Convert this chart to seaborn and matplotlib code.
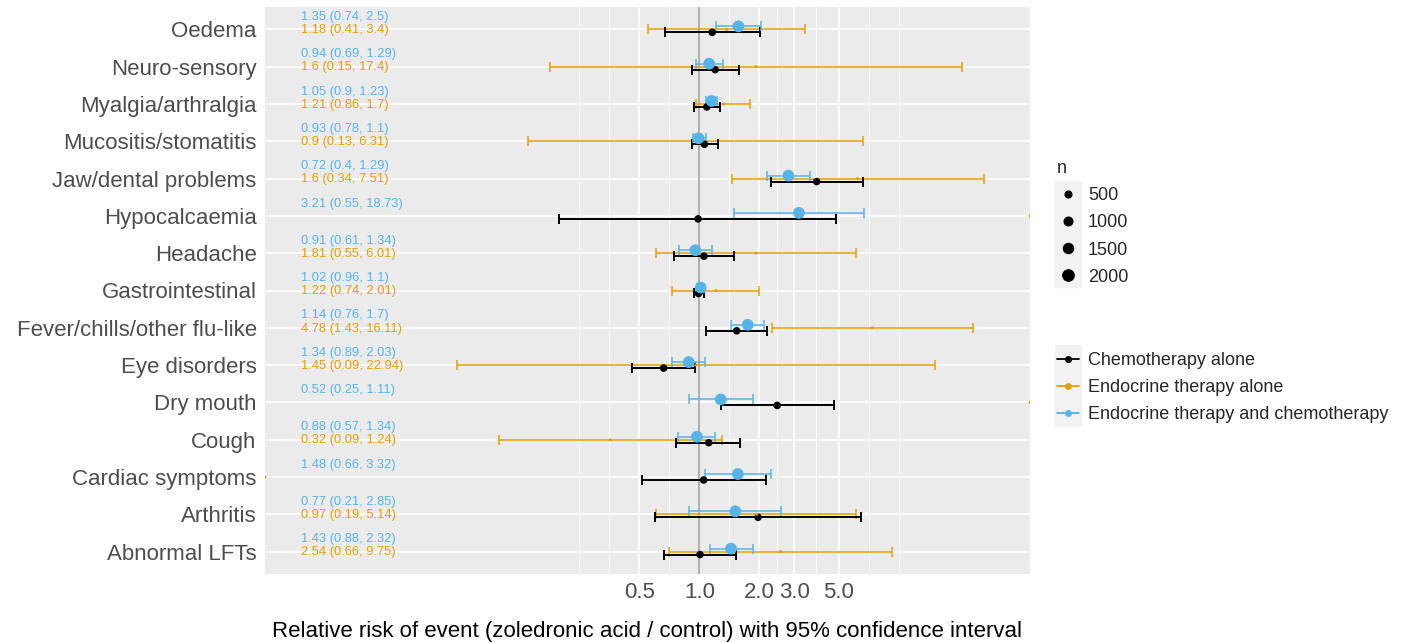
import numpy as np
import pandas as pd
import seaborn as sns
import matplotlib.pyplot as plt
from matplotlib.lines import Line2D
from matplotlib.patches import Rectangle
from matplotlib.ticker import NullFormatter

# ---- data ----
events = ["Oedema", "Neuro-sensory", "Myalgia/arthralgia", "Mucositis/stomatitis",
          "Jaw/dental problems", "Hypocalcaemia", "Headache", "Gastrointestinal",
          "Fever/chills/other flu-like", "Eye disorders", "Dry mouth", "Cough",
          "Cardiac symptoms", "Arthritis", "Abnormal LFTs"]

X_MIN, X_MAX = 0.0066, 45.7

chemo_est = [1.16, 1.20, 1.09, 1.06, 3.88, 0.985, 1.055, 0.99, 1.54, 0.662, 2.46, 1.114, 1.051, 1.97, 1.008]
chemo_lo = [0.673, 0.915, 0.944, 0.919, 2.28, 0.198, 0.749, 0.937, 1.076, 0.457, 1.284, 0.767, 0.516, 0.599, 0.667]
chemo_hi = [2.02, 1.58, 1.27, 1.24, 6.63, 4.85, 1.50, 1.055, 2.19, 0.955, 4.76, 1.607, 2.16, 6.50, 1.53]

# rows without a finite estimate sit on the panel edge
endo_est = [1.37, 1.92, 1.32, 0.954, 6.23, X_MAX, 1.92, 1.21, 7.38, 0.96, X_MAX, 0.356, X_MIN, 1.94, 2.56]
endo_lo = [0.551, 0.177, 0.962, 0.138, 1.46, np.nan, 0.606, 0.732, 2.31, 0.0608, np.nan, 0.0989, np.nan, 0.606, 0.704]
endo_hi = [3.40, 20.9, 1.80, 6.63, 26.8, np.nan, 6.09, 2.0, 23.6, 15.2, np.nan, 1.30, np.nan, 6.11, 9.30]

both_est = [1.57, 1.12, 1.153, 0.99, 2.80, 3.16, 0.955, 1.016, 1.75, 0.884, 1.28, 0.973, 1.56, 1.516, 1.442]
both_lo = [1.21, 0.958, 1.076, 0.926, 2.19, 1.50, 0.794, 0.97, 1.45, 0.732, 0.887, 0.785, 1.072, 0.887, 1.127]
both_hi = [2.05, 1.32, 1.22, 1.076, 3.61, 6.70, 1.157, 1.06, 2.12, 1.072, 1.85, 1.203, 2.29, 2.58, 1.85]

n_chemo, n_endo, n_both = 700, 20, 2200

both_text = ["1.35 (0.74, 2.5)", "0.94 (0.69, 1.29)", "1.05 (0.9, 1.23)", "0.93 (0.78, 1.1)",
             "0.72 (0.4, 1.29)", "3.21 (0.55, 18.73)", "0.91 (0.61, 1.34)", "1.02 (0.96, 1.1)",
             "1.14 (0.76, 1.7)", "1.34 (0.89, 2.03)", "0.52 (0.25, 1.11)", "0.88 (0.57, 1.34)",
             "1.48 (0.66, 3.32)", "0.77 (0.21, 2.85)", "1.43 (0.88, 2.32)"]
endo_text = ["1.18 (0.41, 3.4)", "1.6 (0.15, 17.4)", "1.21 (0.86, 1.7)", "0.9 (0.13, 6.31)",
             "1.6 (0.34, 7.51)", "", "1.81 (0.55, 6.01)", "1.22 (0.74, 2.01)",
             "4.78 (1.43, 16.11)", "1.45 (0.09, 22.94)", "", "0.32 (0.09, 1.24)",
             "", "0.97 (0.19, 5.14)", "2.54 (0.66, 9.75)"]

groups = ["Chemotherapy alone", "Endocrine therapy alone", "Endocrine therapy and chemotherapy"]
colors = {"Chemotherapy alone": "#000000",
          "Endocrine therapy alone": "#E69F00",
          "Endocrine therapy and chemotherapy": "#56B4E9"}
dodge = {"Chemotherapy alone": 0.08, "Endocrine therapy alone": 0.0,
         "Endocrine therapy and chemotherapy": -0.08}

size_breaks = [500, 1000, 1500, 2000]

# ---- long table ----
rows = []
for g, est, lo, hi, n in [(groups[0], chemo_est, chemo_lo, chemo_hi, n_chemo),
                          (groups[1], endo_est, endo_lo, endo_hi, n_endo),
                          (groups[2], both_est, both_lo, both_hi, n_both)]:
    for i, ev in enumerate(events):
        rows.append(dict(event=ev, group=g, est=est[i], lo=lo[i], hi=hi[i], n=n,
                         ypos=i + dodge[g]))
df = pd.DataFrame(rows)


def marker_area(n):
    d_px = 2.1 + 0.206 * np.sqrt(n)
    return (d_px * 0.72) ** 2


sns.set_theme(style="darkgrid", rc={"axes.facecolor": "#EBEBEB", "grid.color": "white"})
plt.rcParams["font.family"] = ["Liberation Sans", "DejaVu Sans"]

fig = plt.figure(figsize=(14.14, 6.43), dpi=100)
ax = fig.add_axes([265 / 1414, 1 - 574 / 643, (1030 - 265) / 1414, (574 - 7) / 643])

ax.set_xscale("log")
ax.set_xlim(X_MIN, X_MAX)
ax.set_ylim(len(events) - 0.4, -0.6)

ax.axvline(1.0, color="#a8a8a8", lw=1.3, zorder=1)

lw = {groups[0]: 1.4, groups[1]: 1.1, groups[2]: 1.1}
for g in [groups[1], groups[0], groups[2]]:
    sub = df[(df.group == g) & df.lo.notna()]
    ax.errorbar(sub.est, sub.ypos, xerr=[sub.est - sub.lo, sub.hi - sub.est], fmt="none",
                ecolor=colors[g], elinewidth=lw[g], capsize=3.6, capthick=lw[g], zorder=2)

sns.scatterplot(data=df, x="est", y="ypos", hue="group", palette=colors,
                size="n", sizes={n: marker_area(n) for n in df.n.unique()},
                linewidth=0, legend=False, ax=ax, zorder=3)

for i in range(len(events)):
    ax.text(0.01, i - 0.33, both_text[i], color=colors[groups[2]], fontsize=9.3,
            ha="left", va="center")
    ax.text(0.01, i + 0.02, endo_text[i], color=colors[groups[1]], fontsize=9.3,
            ha="left", va="center")

ax.set_yticks(range(len(events)))
ax.set_yticklabels(events, fontsize=16, color="#4D4D4D")

major = [0.5, 1.0, 2.0, 3.0, 5.0]
grid_breaks = [0.25] + major + [10]
minor = [0.25, 10] + [np.sqrt(a * b) for a, b in zip(grid_breaks[:-1], grid_breaks[1:])]
ax.set_xticks(major)
ax.set_xticklabels([f"{v:.1f}" for v in major], fontsize=16, color="#4D4D4D")
ax.set_xticks(minor, minor=True)
ax.xaxis.set_minor_formatter(NullFormatter())
ax.tick_params(axis="x", which="minor", length=0)
ax.tick_params(axis="both", which="major", length=3, width=1, color="#333333", pad=3)
ax.grid(True, which="major", axis="both", color="white", lw=1.2)
ax.grid(True, which="minor", axis="x", color="white", lw=0.7)
ax.set_axisbelow(True)
for s in ax.spines.values():
    s.set_visible(False)

ax.set_xlabel("Relative risk of event (zoledronic acid / control) with 95% confidence interval",
              fontsize=16, color="black", labelpad=13)
ax.set_ylabel("")

# ---- legends ----
fig.patches.append(Rectangle((1055 / 1414, 1 - 287 / 643), 26 / 1414, 106 / 643,
                             transform=fig.transFigure, color="#F2F2F2", zorder=0))
fig.patches.append(Rectangle((1055 / 1414, 1 - 426 / 643), 26 / 1414, 81 / 643,
                             transform=fig.transFigure, color="#F2F2F2", zorder=0))

size_handles = [Line2D([], [], ls="none", marker="o", color="black",
                       markersize=np.sqrt(marker_area(n))) for n in size_breaks]
fig.legend(size_handles, [str(n) for n in size_breaks], title="n",
           loc="upper left", bbox_to_anchor=(1041 / 1414, 1 - 144 / 643),
           frameon=False, fontsize=13, title_fontsize=13, alignment="left",
           handlelength=1.2, handletextpad=0.5, labelspacing=0.56)

grp_handles = [Line2D([], [], color=colors[g], lw=1.3, marker="o", markersize=4)
               for g in groups]
fig.legend(grp_handles, groups, loc="upper left", bbox_to_anchor=(1041 / 1414, 1 - 336 / 643),
           frameon=False, fontsize=13, handlelength=1.2, handletextpad=0.5,
           labelspacing=0.56)

fig.savefig("out.png", dpi=100)
